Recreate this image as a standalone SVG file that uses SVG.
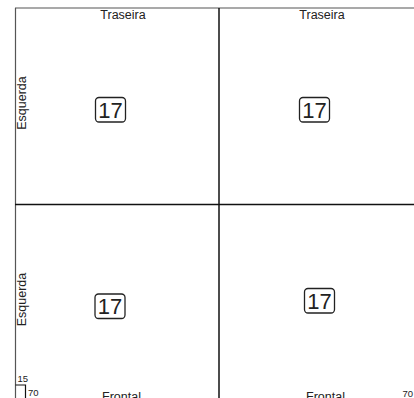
<svg xmlns="http://www.w3.org/2000/svg" width="414" height="398" viewBox="0 0 414 398">
<style>
text{font-family:"Liberation Sans",Arial,sans-serif;fill:#222}
.lbl{font-size:12.5px;text-anchor:middle}
.num{font-size:22px;text-anchor:middle}
.sm{font-size:9.5px}
.box{fill:#fff;stroke:#222;stroke-width:1.3}
.grid{stroke:#111;stroke-width:1.5;fill:none}
.edge{stroke:#555;stroke-width:1.2;fill:none}
</style>
<rect width="414" height="398" fill="#fff"/>
<g id="lines">
<line class="edge" x1="15" y1="8" x2="414" y2="8"/>
<line class="edge" x1="15.5" y1="8" x2="15.5" y2="398"/>
<line class="grid" x1="219" y1="8" x2="219" y2="398"/>
<line class="grid" x1="15" y1="204.5" x2="414" y2="204.5"/>
<polyline class="grid" points="15.5,385 25.5,385 25.5,398" style="stroke-width:1.2"/>
</g>
<g id="q1">
<text class="lbl" x="123" y="19">Traseira</text>
<text class="lbl" transform="translate(26,103) rotate(-90)">Esquerda</text>
<rect class="box" x="95.5" y="97.5" width="30" height="24.5" rx="3.5"/>
<text class="num" x="110.5" y="117.5">17</text>
</g>
<g id="q2">
<text class="lbl" x="322" y="19">Traseira</text>
<text class="lbl" transform="translate(414.6,115) rotate(90)">Direita</text>
<rect class="box" x="299.5" y="97.5" width="30" height="24.5" rx="3.5"/>
<text class="num" x="314.5" y="117.5">17</text>
</g>
<g id="q3">
<text class="lbl" transform="translate(26,299.5) rotate(-90)">Esquerda</text>
<rect class="box" x="95" y="294" width="30" height="24.5" rx="3.5"/>
<text class="num" x="110" y="314">17</text>
<text class="lbl" x="121.5" y="401">Frontal</text>
<text class="sm" x="17.5" y="382">15</text>
<text class="sm" x="28" y="396">70</text>
</g>
<g id="q4">
<text class="lbl" transform="translate(414.6,305) rotate(90)">Direita</text>
<rect class="box" x="304.5" y="288.5" width="30" height="24.5" rx="3.5"/>
<text class="num" x="319.5" y="308.5">17</text>
<text class="lbl" x="325.5" y="401">Frontal</text>
<text class="sm" x="402.5" y="397">70</text>
</g>
</svg>
